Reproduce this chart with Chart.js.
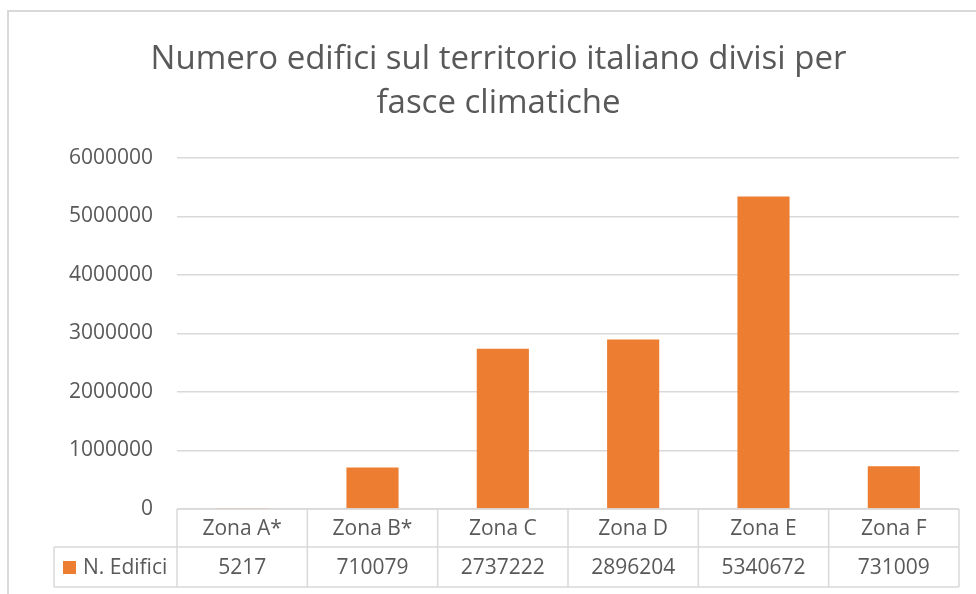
<!DOCTYPE html>
<html>
<head>
<meta charset="utf-8">
<script src="https://cdn.jsdelivr.net/npm/chart.js@4"></script>
<style>
  html, body { margin: 0; padding: 0; background: #fff; }
</style>
</head>
<body>
<canvas id="chart" width="976" height="594"></canvas>
<script>
// Chart data
const categories = ['Zona A*', 'Zona B*', 'Zona C', 'Zona D', 'Zona E', 'Zona F'];
const seriesName = 'N. Edifici';
const edifici = [5217, 710079, 2737222, 2896204, 5340672, 731009];
const yTicks = [0, 1000000, 2000000, 3000000, 4000000, 5000000, 6000000];

const orange = '#ED7D31';
const textGray = '#595959';
const lineGray = '#D9D9D9';
const fontFamily = "'Open Sans', sans-serif";

// light frame around the chart area, like the Excel screenshot
const framePlugin = {
  id: 'frame',
  beforeDraw(chart) {
    const ctx = chart.ctx;
    ctx.save();
    ctx.strokeStyle = lineGray;
    ctx.lineWidth = 2;
    ctx.beginPath();
    ctx.moveTo(8, chart.height);
    ctx.lineTo(8, 11);
    ctx.lineTo(chart.width, 11);
    ctx.stroke();
    ctx.restore();
  }
};

// data table under the bars (categories + values)
const tablePlugin = {
  id: 'dataTable',
  afterDraw(chart) {
    const ctx = chart.ctx;
    const xScale = chart.scales.x;
    const area = chart.chartArea;
    const top = area.bottom;
    const mid = top + 38;
    const bottom = mid + 40;
    const labelLeft = 54;
    const step = (area.right - area.left) / categories.length;

    ctx.save();
    ctx.strokeStyle = lineGray;
    ctx.lineWidth = 1.5;
    ctx.beginPath();
    // horizontal lines
    ctx.moveTo(area.left, top); ctx.lineTo(area.right, top);
    ctx.moveTo(labelLeft, mid); ctx.lineTo(area.right, mid);
    ctx.moveTo(labelLeft, bottom); ctx.lineTo(area.right, bottom);
    // vertical lines
    ctx.moveTo(labelLeft, mid); ctx.lineTo(labelLeft, bottom);
    categories.forEach((c, i) => {
      const xl = xScale.getPixelForValue(i) - step / 2;
      ctx.moveTo(xl, top); ctx.lineTo(xl, bottom);
    });
    ctx.moveTo(area.right, top); ctx.lineTo(area.right, bottom);
    ctx.stroke();

    ctx.fillStyle = textGray;
    ctx.font = '21px ' + fontFamily;
    ctx.textAlign = 'center';
    ctx.textBaseline = 'middle';
    const headY = (top + mid) / 2 + 1;
    const rowY = (mid + bottom) / 2 + 1;
    categories.forEach((c, i) => {
      const cx = xScale.getPixelForValue(i);
      ctx.fillText(c, cx, headY);
      ctx.fillText(String(edifici[i]), cx, rowY);
    });

    // legend key + series name
    ctx.fillStyle = orange;
    ctx.fillRect(63, rowY - 7, 13, 13);
    ctx.fillStyle = textGray;
    ctx.textAlign = 'left';
    ctx.fillText(seriesName, 83, rowY);
    ctx.restore();
  }
};

const ctx = document.getElementById('chart').getContext('2d');
new Chart(ctx, {
  type: 'bar',
  data: {
    labels: categories,
    datasets: [{
      label: seriesName,
      data: edifici,
      backgroundColor: orange,
      barPercentage: 0.4,
      categoryPercentage: 1
    }]
  },
  options: {
    responsive: false,
    animation: false,
    layout: {
      padding: { top: 0, left: 38, right: 17, bottom: 85 }
    },
    plugins: {
      legend: { display: false },
      tooltip: { enabled: false },
      title: {
        display: true,
        text: ['Numero edifici sul territorio italiano divisi per', 'fasce climatiche'],
        color: textGray,
        font: { family: fontFamily, size: 33, weight: 'normal', lineHeight: 1.333 },
        padding: { top: 38, bottom: 32 }
      }
    },
    scales: {
      x: {
        display: false
      },
      y: {
        min: 0,
        max: 6000000,
        afterBuildTicks: scale => {
          scale.ticks = yTicks.map(v => ({ value: v }));
        },
        afterFit: scale => {
          scale.width = 139;
        },
        border: { display: false },
        grid: { color: lineGray, lineWidth: 1.5, drawTicks: false },
        ticks: {
          color: textGray,
          padding: 24,
          font: { family: fontFamily, size: 21 },
          callback: v => String(v)
        }
      }
    }
  },
  plugins: [framePlugin, tablePlugin]
});
</script>
</body>
</html>
